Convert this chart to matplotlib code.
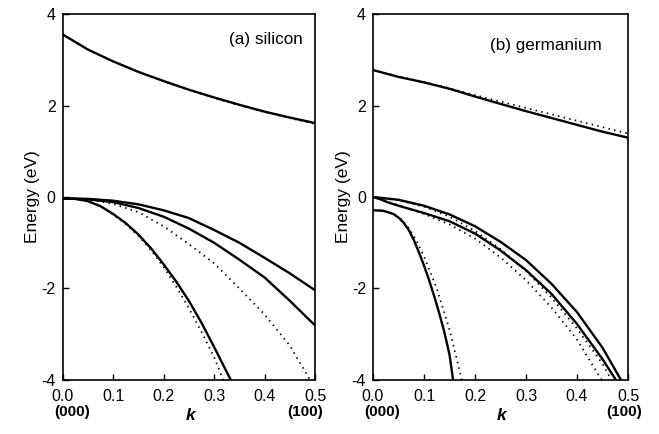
import numpy as np
import matplotlib.pyplot as plt

plt.rcParams['font.family'] = ['Liberation Sans', 'DejaVu Sans']
plt.rcParams['axes.unicode_minus'] = False

# ---- silicon ----
si_k = [0.0, 0.05, 0.1, 0.15, 0.2, 0.25, 0.3, 0.35, 0.4, 0.45, 0.5]
si_cb = [3.56, 3.23, 2.97, 2.74, 2.54, 2.35, 2.18, 2.02, 1.87, 1.74, 1.62]
si_cb_dot = [3.56, 3.23, 2.97, 2.74, 2.53, 2.35, 2.17, 2.01, 1.86, 1.73, 1.60]
si_hh = [-0.03, -0.04, -0.08, -0.16, -0.29, -0.46, -0.72, -1.00, -1.33, -1.67, -2.04]
si_lh = [-0.03, -0.05, -0.11, -0.24, -0.43, -0.69, -1.00, -1.37, -1.76, -2.27, -2.81]
si_mid_dot_k = [0.0, 0.05, 0.1, 0.15, 0.2, 0.25, 0.3, 0.35, 0.4, 0.45, 0.49]
si_mid_dot = [-0.03, -0.05, -0.15, -0.33, -0.64, -1.03, -1.45, -2.00, -2.57, -3.25, -4.0]
si_so_k = [0.0, 0.025, 0.05, 0.075, 0.1, 0.125, 0.15, 0.175, 0.2, 0.225, 0.25,
           0.275, 0.3, 0.333]
si_so = [-0.03, -0.04, -0.09, -0.20, -0.37, -0.57, -0.82, -1.12, -1.47, -1.85,
         -2.27, -2.75, -3.28, -4.0]
si_so_dot_k = [0.0, 0.025, 0.05, 0.075, 0.1, 0.125, 0.15, 0.175, 0.2, 0.225, 0.25,
               0.275, 0.3, 0.318]
si_so_dot = [-0.03, -0.04, -0.09, -0.20, -0.38, -0.59, -0.85, -1.16, -1.53, -1.96,
             -2.43, -2.95, -3.50, -4.0]

# ---- germanium ----
ge_k = [0.0, 0.05, 0.1, 0.15, 0.2, 0.25, 0.3, 0.35, 0.4, 0.45, 0.5]
ge_cb = [2.78, 2.63, 2.51, 2.37, 2.20, 2.04, 1.88, 1.73, 1.58, 1.43, 1.30]
ge_cb_dot = [2.78, 2.64, 2.52, 2.38, 2.23, 2.09, 1.95, 1.81, 1.67, 1.53, 1.39]
ge_hh_k = [0.0, 0.05, 0.1, 0.15, 0.2, 0.25, 0.3, 0.35, 0.4, 0.45, 0.486]
ge_hh = [0.0, -0.06, -0.19, -0.38, -0.64, -0.98, -1.38, -1.90, -2.52, -3.30, -4.0]
ge_hh_dot_k = [0.0, 0.05, 0.1, 0.15, 0.2, 0.25, 0.3, 0.35, 0.4, 0.45, 0.467]
ge_hh_dot = [0.0, -0.07, -0.21, -0.43, -0.74, -1.14, -1.62, -2.20, -2.88, -3.65, -4.0]
ge_lh_k = [0.0, 0.015, 0.03, 0.05, 0.1, 0.15, 0.2, 0.25, 0.3, 0.35, 0.4, 0.45, 0.476]
ge_lh = [0.0, -0.05, -0.12, -0.19, -0.35, -0.53, -0.80, -1.17, -1.60, -2.12, -2.78,
         -3.55, -4.0]
ge_lh_dot_k = [0.0, 0.05, 0.1, 0.15, 0.2, 0.25, 0.3, 0.35, 0.4, 0.448]
ge_lh_dot = [0.0, -0.18, -0.37, -0.60, -0.91, -1.32, -1.82, -2.42, -3.12, -4.0]
ge_so_k = [0.0, 0.02, 0.04, 0.05, 0.06, 0.07, 0.08, 0.09, 0.1, 0.11, 0.12, 0.13,
           0.14, 0.15, 0.157]
ge_so = [-0.29, -0.30, -0.37, -0.45, -0.56, -0.72, -0.94, -1.21, -1.50, -1.82,
         -2.17, -2.55, -2.96, -3.45, -4.0]
ge_so_dot_k = [0.0, 0.02, 0.04, 0.055, 0.07, 0.085, 0.1, 0.125, 0.15, 0.174]
ge_so_dot = [-0.29, -0.30, -0.37, -0.48, -0.68, -0.95, -1.30, -2.00, -2.90, -4.0]

xticks = [0.0, 0.1, 0.2, 0.3, 0.4, 0.5]
yticks = [-4, -2, 0, 2, 4]

solid = dict(color='black', lw=1.7, solid_capstyle='butt', solid_joinstyle='round')
dotted = dict(color='black', lw=1.3, linestyle=(0, (0.8, 2.4)))


def style_axes(ax, x000, x100):
    ax.set_xlim(0, 0.5)
    ax.set_ylim(-4, 4)
    ax.set_xticks(xticks)
    ax.set_xticklabels(['%.1f' % t for t in xticks])
    ax.set_yticks(yticks)
    ax.tick_params(direction='in', length=4, width=1, labelsize=11.5)
    ax.tick_params(axis='x', pad=7)
    ax.tick_params(axis='y', pad=5)
    for s in ax.spines.values():
        s.set_linewidth(1.2)
    ax.set_ylabel('Energy (eV)', fontsize=12.5)
    ax.yaxis.set_label_coords(-0.088, 0.5)
    ax.text(0.505, -0.098, 'k', transform=ax.transAxes, ha='center', va='center',
            fontsize=12.5, fontweight='bold', style='italic')
    ax.text(x000, -0.087, '(000)', transform=ax.transAxes, ha='center', va='center',
            fontsize=11, fontweight='bold')
    ax.text(x100, -0.087, '(100)', transform=ax.transAxes, ha='center', va='center',
            fontsize=11, fontweight='bold')


fig = plt.figure(figsize=(6.59, 4.34), dpi=100)
ax1 = fig.add_axes([0.095, 0.125, 0.383, 0.842])
ax2 = fig.add_axes([0.566, 0.125, 0.387, 0.842])

# silicon
ax1.plot(si_k, si_cb_dot, **dotted)
ax1.plot(si_mid_dot_k, si_mid_dot, **dotted)
ax1.plot(si_so_dot_k, si_so_dot, **dotted)
ax1.plot(si_k, si_cb, **solid)
ax1.plot(si_k, si_hh, **solid)
ax1.plot(si_k, si_lh, **solid)
ax1.plot(si_so_k, si_so, **solid)
style_axes(ax1, 0.038, 0.962)
ax1.text(0.95, 0.93, '(a) silicon', transform=ax1.transAxes, ha='right', va='center',
         fontsize=12.3)

# germanium
ax2.plot(ge_k, ge_cb_dot, **dotted)
ax2.plot(ge_hh_dot_k, ge_hh_dot, **dotted)
ax2.plot(ge_lh_dot_k, ge_lh_dot, **dotted)
ax2.plot(ge_so_dot_k, ge_so_dot, **dotted)
ax2.plot(ge_k, ge_cb, **solid)
ax2.plot(ge_hh_k, ge_hh, **solid)
ax2.plot(ge_lh_k, ge_lh, **solid)
ax2.plot(ge_so_k, ge_so, **solid)
style_axes(ax2, 0.037, 0.986)
ax2.text(0.898, 0.915, '(b) germanium', transform=ax2.transAxes, ha='right', va='center',
         fontsize=12.3)

fig.savefig('out.png', dpi=100)
